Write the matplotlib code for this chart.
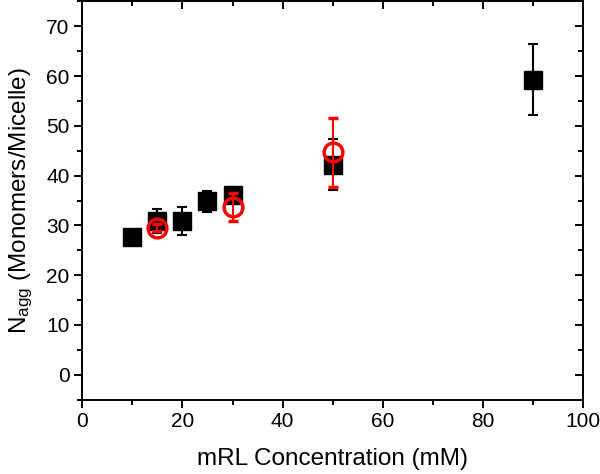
import numpy as np
import matplotlib
matplotlib.use('Agg')
import matplotlib.pyplot as plt
from matplotlib.ticker import MultipleLocator

plt.rcParams['font.family'] = ['Liberation Sans', 'DejaVu Sans']
plt.rcParams['mathtext.fontset'] = 'custom'
plt.rcParams['mathtext.rm'] = 'Liberation Sans'
plt.rcParams['mathtext.it'] = 'Liberation Sans'

# black squares
conc_sq = [10, 15, 20, 25, 30, 50, 90]
nagg_sq = [27.6, 30.9, 30.9, 34.8, 36.1, 42.2, 59.3]
err_sq = [0.8, 2.4, 2.8, 2.2, 1.7, 5.1, 7.1]

# red open circles
conc_ci = [15, 30, 50]
nagg_ci = [29.5, 33.7, 44.7]
err_ci = [0.7, 2.8, 6.9]

fig = plt.figure(figsize=(6, 4.74), dpi=100)
ax = fig.add_axes([0.137, 0.157, 0.835, 0.84])

ax.errorbar(conc_sq, nagg_sq, yerr=err_sq, fmt='s', color='black', ms=12.8,
            ecolor='black', elinewidth=1.5, capsize=3.6, capthick=1.5, zorder=3)
ax.errorbar(conc_ci, nagg_ci, yerr=err_ci, fmt='o', color='red', ms=13.5,
            mfc='none', mec='red', mew=2.5, ecolor='red', elinewidth=1.5,
            capsize=3.6, capthick=1.5, zorder=4)

ax.set_xlim(0, 100)
ax.set_ylim(-5, 75)
ax.xaxis.set_major_locator(MultipleLocator(20))
ax.xaxis.set_minor_locator(MultipleLocator(10))
ax.yaxis.set_major_locator(MultipleLocator(10))
ax.yaxis.set_minor_locator(MultipleLocator(5))

ax.tick_params(which='both', direction='out', width=1.4, labelsize=15, top=False, right=False)
ax.tick_params(which='major', length=5.5)
ax.tick_params(which='minor', length=3.5)

# inward ticks on top and right, no labels
axt = ax.secondary_xaxis('top')
axt.xaxis.set_major_locator(MultipleLocator(20))
axt.xaxis.set_minor_locator(MultipleLocator(10))
axt.tick_params(which='both', direction='in', width=1.4, labeltop=False)
axt.tick_params(which='major', length=5.5)
axt.tick_params(which='minor', length=3.5)
axr = ax.secondary_yaxis('right')
axr.yaxis.set_major_locator(MultipleLocator(10))
axr.yaxis.set_minor_locator(MultipleLocator(5))
axr.tick_params(which='both', direction='in', width=1.4, labelright=False)
axr.tick_params(which='major', length=5.5)
axr.tick_params(which='minor', length=3.5)
for a in (ax, axt, axr):
    for s in a.spines.values():
        s.set_linewidth(1.4)

ax.set_xlabel('mRL Concentration (mM)', fontsize=17.5, labelpad=12)
ax.set_ylabel(r'N$_{\mathrm{agg}}$ (Monomers/Micelle)', fontsize=17.5, labelpad=8)

fig.savefig('out.png', dpi=100)
